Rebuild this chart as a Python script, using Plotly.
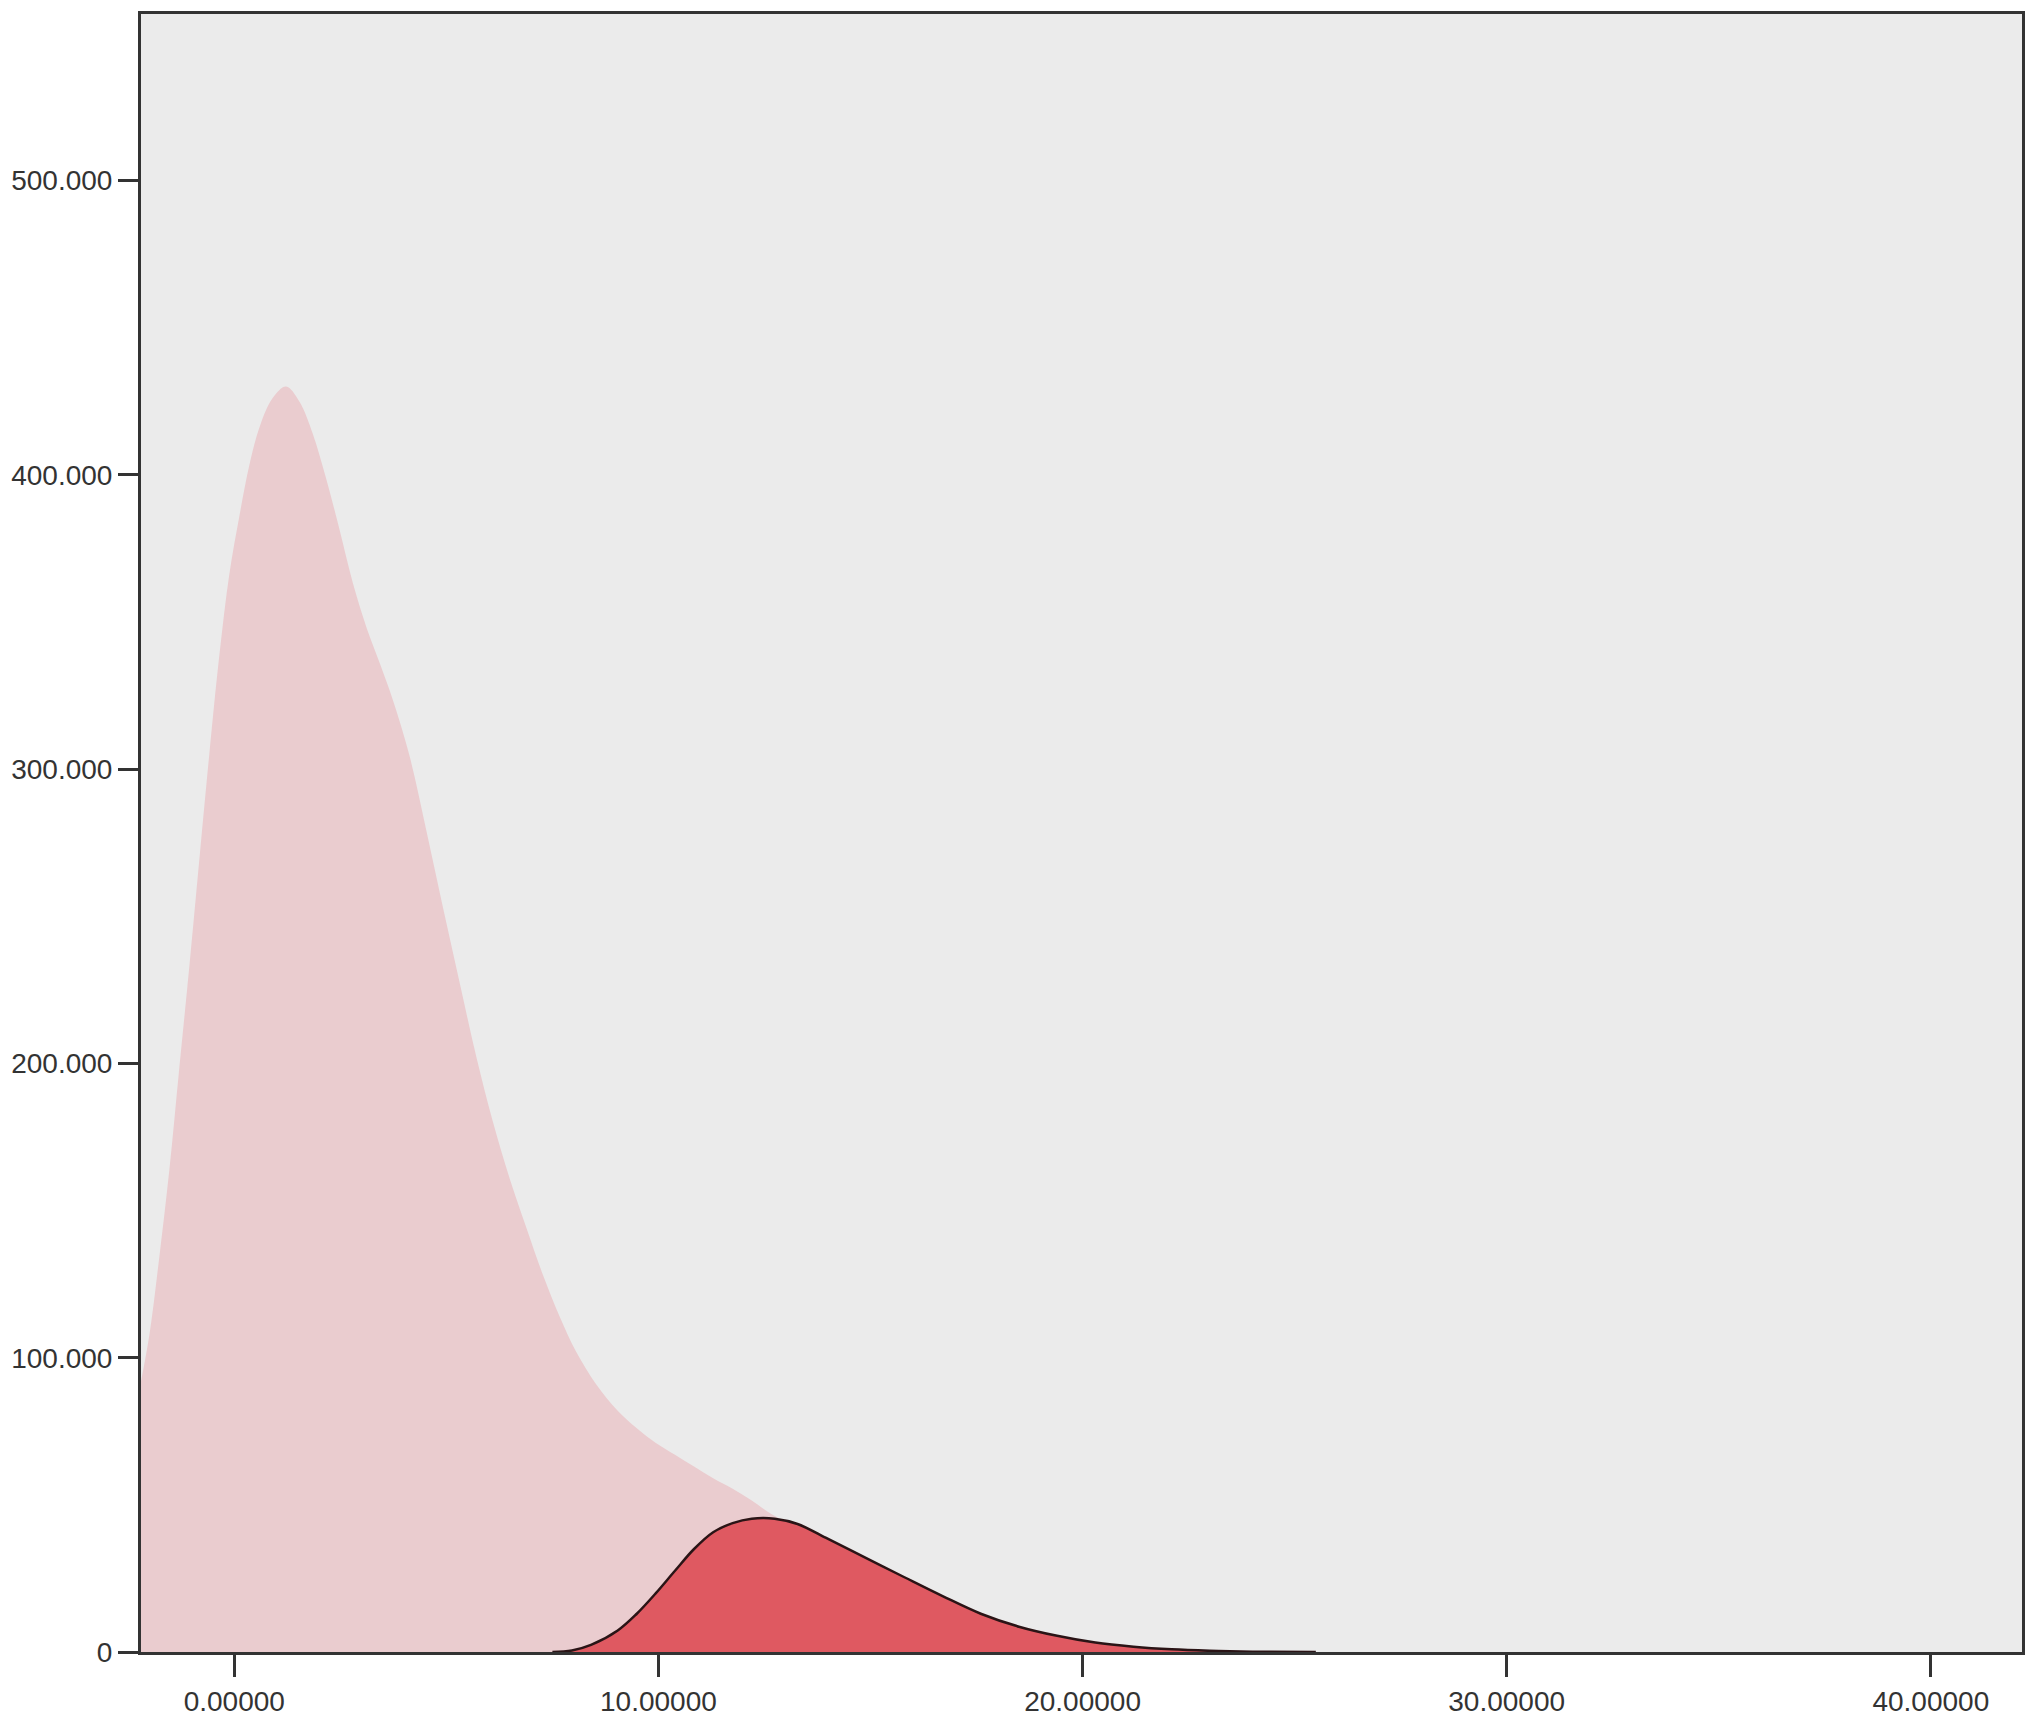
"""
Two overlapping density curves (light pink and red) on a grey panel.
"""

import plotly.graph_objects as go

# light pink density
PINK_X = [-2.2, -2.0, -1.77, -1.53, -1.30, -1.06, -0.82, -0.59, -0.35, -0.12,
          0.12, 0.35, 0.59, 0.90, 1.22, 1.53, 1.85, 2.16, 2.47, 2.80,
          3.12, 3.43, 3.75, 4.14, 4.53, 4.92, 5.32, 5.71, 6.10, 6.49,
          6.89, 7.28, 7.67, 8.06, 8.53, 9.04, 9.49, 9.94, 10.39, 10.84,
          11.29, 11.75, 12.2, 12.65, 13.28, 14.0, 14.9, 15.8, 16.7, 17.6,
          18.5, 19.4, 20.3, 21.2, 22.1, 23.0, 24.0]
PINK_Y = [92, 108, 134, 164, 198, 233, 270, 305, 339, 366,
          386, 403, 416, 426, 430, 425, 414, 399, 382, 363,
          348, 336, 323, 304, 279, 253, 227, 202, 180, 161,
          144, 128, 114, 102, 91, 82, 76, 71, 67, 63,
          59, 55.5, 51.5, 47, 42.5, 37.5, 31, 24.5, 18.3, 12.5,
          8.2, 5.2, 3.0, 1.6, 0.8, 0.3, 0]

# red density with dark outline
RED_X = [7.5, 7.96, 8.41, 9.04, 9.49, 9.94, 10.39, 10.84, 11.29, 11.75,
         12.2, 12.74, 13.28, 14.0, 14.9, 15.8, 16.7, 17.6, 18.5, 19.4,
         20.3, 21.2, 22.1, 23.0, 24.0, 25.5]
RED_Y = [0, 0.5, 2.4, 7.3, 13, 20, 27.6, 35, 40.7, 43.8,
         45.3, 45.3, 43.5, 38.4, 31.9, 25.4, 19, 13, 8.6, 5.5,
         3.2, 1.8, 0.9, 0.4, 0.1, 0]

X_TICKS = [0, 10, 20, 30, 40]
X_TICK_TEXT = ["0.00000", "10.00000", "20.00000", "30.00000", "40.00000"]
Y_TICKS = [0, 100, 200, 300, 400, 500]
Y_TICK_TEXT = ["0", "100.000", "200.000", "300.000", "400.000", "500.000"]

AXIS_COLOR = "#333333"

fig = go.Figure()
fig.add_trace(go.Scatter(
    x=PINK_X, y=PINK_Y,
    mode="lines",
    line=dict(width=0, shape="spline", smoothing=1.0),
    fill="tozeroy",
    fillcolor="#EACCCF",
    hoverinfo="skip",
    showlegend=False,
))
fig.add_trace(go.Scatter(
    x=RED_X, y=RED_Y,
    mode="lines",
    line=dict(width=2.5, color="#2a1416", shape="spline", smoothing=1.0),
    fill="tozeroy",
    fillcolor="#DF5961",
    hoverinfo="skip",
    showlegend=False,
))

# page body adds 8px around the figure, so size/margins are trimmed by that
fig.update_layout(
    width=2030,
    height=1712,
    paper_bgcolor="white",
    plot_bgcolor="#EBEBEB",
    margin=dict(l=129, r=16, t=3, b=64),
    font=dict(family="Liberation Sans, Arial, sans-serif", size=28, color=AXIS_COLOR),
    showlegend=False,
)
fig.update_xaxes(
    range=[-2.2, 42.15],
    tickvals=X_TICKS,
    ticktext=X_TICK_TEXT,
    ticks="outside",
    ticklen=22,
    tickwidth=3,
    tickcolor=AXIS_COLOR,
    showline=True,
    linecolor=AXIS_COLOR,
    linewidth=3,
    mirror=True,
    showgrid=False,
    zeroline=False,
)
fig.update_yaxes(
    range=[0, 556.6],
    tickvals=Y_TICKS,
    ticktext=Y_TICK_TEXT,
    ticks="outside",
    ticklen=20,
    tickwidth=3,
    tickcolor=AXIS_COLOR,
    showline=True,
    linecolor=AXIS_COLOR,
    linewidth=3,
    mirror=True,
    showgrid=False,
    zeroline=False,
)

fig.write_html("out.html")
